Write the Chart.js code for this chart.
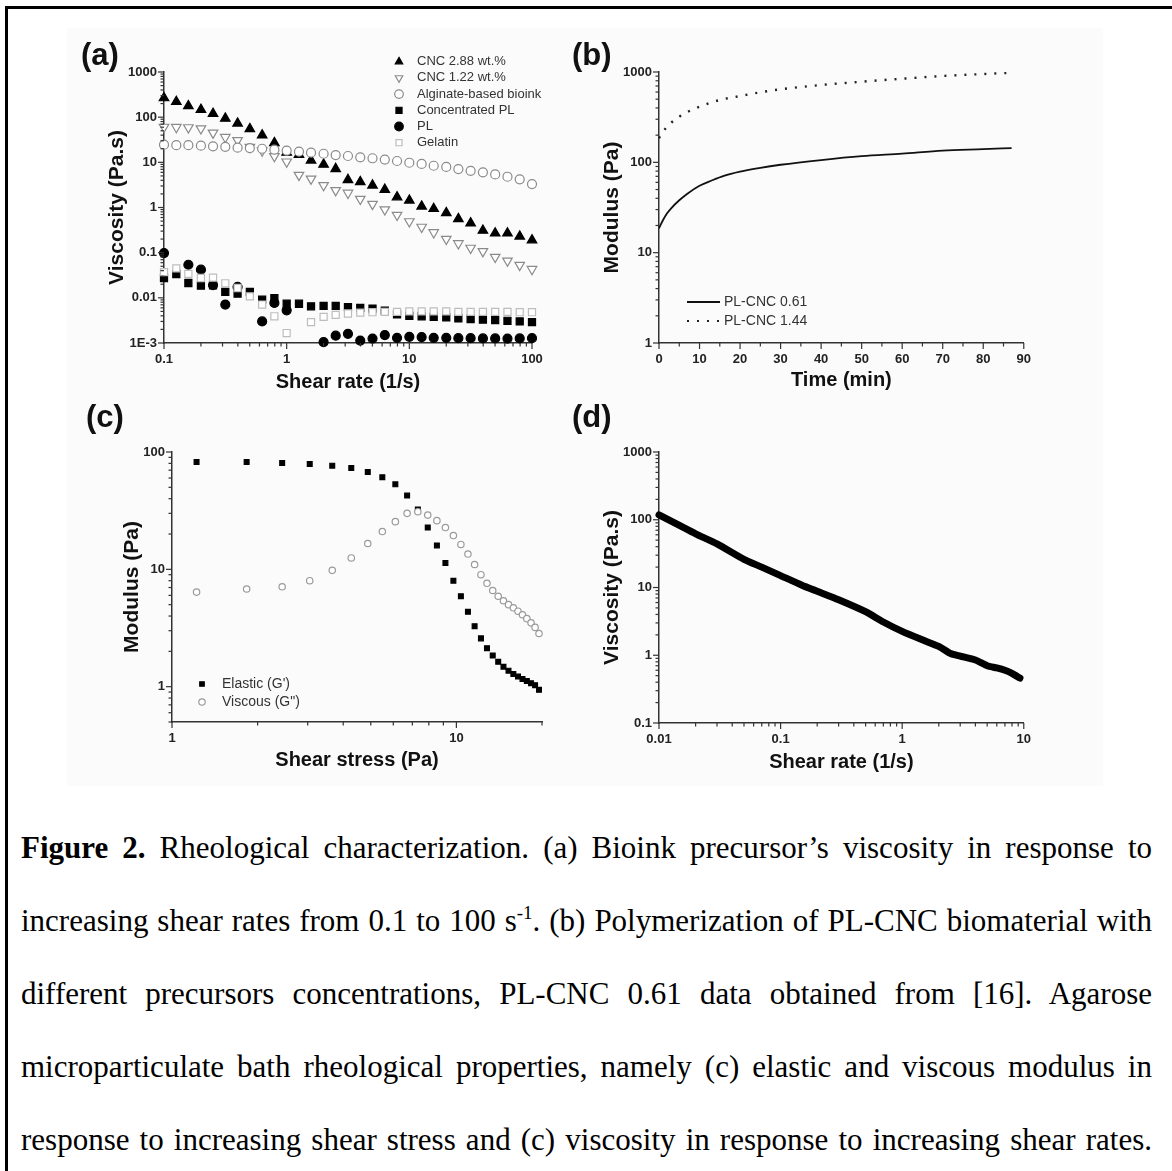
<!DOCTYPE html>
<html>
<head>
<meta charset="utf-8">
<script src="https://cdn.jsdelivr.net/npm/chart.js@4.4.0/dist/chart.umd.min.js"></script>
<style>
  body { margin: 0; background: #fff; width: 1172px; height: 1171px; overflow: hidden; position: relative; }
  .frameTop { position: absolute; left: 5px; top: 6px; width: 1167px; height: 3px; background: #000; }
  .frameLeft { position: absolute; left: 5px; top: 6px; width: 3px; height: 1165px; background: #000; }
  .imgbg { position: absolute; left: 67px; top: 28px; width: 1036px; height: 758px; background: #fbfbfb; }
  canvas { position: absolute; }
  .lbl { position: absolute; font: bold 31px "Liberation Sans", Arial, sans-serif; line-height: 31px; color: #111; }
  .caption { position: absolute; left: 21px; top: 811px; width: 1131px; font: 31px "Liberation Serif", "Times New Roman", serif; line-height: 73px; color: #000; }
  .caption div { text-align: justify; text-align-last: justify; }
  .caption sup { font-size: 19px; vertical-align: 12px; line-height: 0; }
</style>
</head>
<body>
<div class="imgbg"></div>
<div class="frameTop"></div>
<div class="frameLeft"></div>

<canvas id="chartA"></canvas>
<canvas id="chartB"></canvas>
<canvas id="chartC"></canvas>
<canvas id="chartD"></canvas>

<div class="lbl" style="left:81px;top:39px">(a)</div>
<div class="lbl" style="left:572px;top:39px">(b)</div>
<div class="lbl" style="left:86px;top:401px">(c)</div>
<div class="lbl" style="left:572px;top:401px">(d)</div>

<div class="caption">
  <div><b>Figure 2.</b> Rheological characterization. (a) Bioink precursor’s viscosity in response to</div>
  <div>increasing shear rates from 0.1 to 100 s<sup>-1</sup>. (b) Polymerization of PL-CNC biomaterial with</div>
  <div>different precursors concentrations, PL-CNC 0.61 data obtained from [16]. Agarose</div>
  <div>microparticulate bath rheological properties, namely (c) elastic and viscous modulus in</div>
  <div>response to increasing shear stress and (c) viscosity in response to increasing shear rates.</div>
</div>

<script>
// (a) viscosity vs shear rate
const shearA = [0.1, 0.126, 0.158, 0.2, 0.251, 0.316, 0.398, 0.501, 0.631, 0.794, 1, 1.26, 1.58, 2, 2.51, 3.16, 3.98, 5.01, 6.31, 7.94, 10, 12.6, 15.8, 20, 25.1, 31.6, 39.8, 50.1, 63.1, 79.4, 100]
const cnc288 = [266, 220, 177, 147, 120, 94, 73, 55, 40, 27, 16.6, 14.8, 11.1, 9.0, 7.2, 4.1, 3.7, 3.1, 2.5, 1.7, 1.44, 1.06, 0.94, 0.76, 0.56, 0.45, 0.31, 0.27, 0.27, 0.23, 0.19]
const cnc122 = [60.5, 60, 59, 56, 45, 36, 30.7, 21.8, 18.1, 13.6, 10.3, 5.2, 4.3, 3.1, 2.4, 2.1, 1.54, 1.19, 0.9, 0.68, 0.49, 0.37, 0.28, 0.2, 0.16, 0.127, 0.107, 0.08, 0.066, 0.053, 0.043]
const alginate = [24.6, 24, 24, 23.4, 22.6, 22, 21.1, 20.7, 20, 19.1, 18.1, 17.2, 16.4, 15.5, 14.5, 13.8, 12.9, 12.3, 11.5, 10.7, 9.8, 9.2, 8.4, 7.9, 7.1, 6.5, 6.0, 5.4, 4.8, 4.2, 3.3]
const concPL = [0.0275, 0.0337, 0.0213, 0.0186, 0.019, 0.0135, 0.0124, 0.0135, 0.0091, 0.0099, 0.0074, 0.0074, 0.0065, 0.0066, 0.0066, 0.0062, 0.006, 0.0058, 0.0052, 0.0043, 0.004, 0.0039, 0.0038, 0.0037, 0.0035, 0.0034, 0.0033, 0.0032, 0.0031, 0.003, 0.0029]
const plA = [0.098, null, 0.054, 0.042, 0.0192, 0.0071, 0.0174, null, 0.003, 0.0077, 0.0053, null, null, 0.00105, 0.00145, 0.0016, 0.00113, 0.00125, 0.0015, 0.0013, 0.00137, 0.00135, 0.0013, 0.0013, 0.00128, 0.00128, 0.00126, 0.00126, 0.00125, 0.00126, 0.00128]
const gelatin = [0.037, 0.045, 0.034, 0.0275, 0.028, 0.021, 0.0165, 0.0108, 0.0071, 0.0039, 0.00166, null, 0.0029, 0.0038, 0.0042, 0.0045, 0.0047, 0.0048, 0.0049, 0.0049, 0.005, 0.005, 0.005, 0.005, 0.0049, 0.0049, 0.0049, 0.0049, 0.0049, 0.0048, 0.0048]
const aXTicks = [0.1, 1, 10, 100]
const aXText = ['0.1', '1', '10', '100']
const aYTicks = [0.001, 0.01, 0.1, 1, 10, 100, 1000]
const aYText = ['1E-3', '0.01', '0.1', '1', '10', '100', '1000']

// (b) modulus vs time
const timeB = [0, 1, 2, 3, 5, 7, 10, 13, 16, 20, 25, 30, 40, 50, 60, 70, 80, 87]
const plcnc061 = [18.6, 23, 27.3, 31, 38, 45, 55, 63, 71, 79, 87, 94, 106, 117, 125, 135, 140, 144]
const plcnc144 = [185, 219, 248, 275, 320, 361, 413, 462, 502, 542, 596, 643, 718, 781, 843, 903, 950, 982]
const bYTicks = [1, 10, 100, 1000]
const bYText = ['1', '10', '100', '1000']

// (c) modulus vs shear stress
const stressC = [1.22, 1.83, 2.44, 3.05, 3.66, 4.27, 4.88, 5.49, 6.1, 6.71, 7.32, 7.93, 8.54, 9.15, 9.76, 10.37, 10.98, 11.59, 12.2, 12.81, 13.42, 14.03, 14.64, 15.25, 15.86, 16.47, 17.08, 17.69, 18.3, 18.91, 19.52]
const elastic = [82, 82, 80.6, 79, 76.5, 73, 67.6, 61, 53, 42.5, 32.3, 22.7, 16, 11.3, 8.0, 5.9, 4.35, 3.28, 2.58, 2.13, 1.84, 1.63, 1.48, 1.37, 1.28, 1.22, 1.16, 1.12, 1.07, 1.03, 0.94]
const viscous = [6.4, 6.8, 7.1, 8.0, 9.8, 12.5, 16.6, 21, 25.5, 30, 31, 29, 26, 22.7, 19.4, 16.3, 13.5, 11, 9.0, 7.6, 6.6, 5.9, 5.4, 5.0, 4.7, 4.4, 4.1, 3.8, 3.5, 3.2, 2.84]
const cXTicks = [1, 10]
const cXText = ['1', '10']
const cYTicks = [1, 10, 100]
const cYText = ['1', '10', '100']

// (d) viscosity vs shear rate
const rateD = [0.01, 0.015, 0.02, 0.03, 0.05, 0.07, 0.1, 0.15, 0.2, 0.3, 0.5, 0.7, 1, 1.5, 2, 2.5, 3, 4, 5, 6, 7, 8, 9.3]
const viscD = [118, 81, 62, 44, 26, 20, 15, 10.8, 8.8, 6.6, 4.4, 3.1, 2.25, 1.66, 1.35, 1.06, 0.97, 0.85, 0.7, 0.65, 0.6, 0.54, 0.46]
const dXTicks = [0.01, 0.1, 1, 10]
const dXText = ['0.01', '0.1', '1', '10']
const dYTicks = [0.1, 1, 10, 100, 1000]
const dYText = ['0.1', '1', '10', '100', '1000']

Chart.defaults.font.family = '"Liberation Sans", Arial, sans-serif'
const tickFont = {size: 13, weight: 'bold'}
const dark = '#333'
const grey = '#8a8a8a'
const light = '#bdbdbd'

function pairs(xs, ys) {
  return xs.map((x, i) => ({x: x, y: ys[i]})).filter(p => p.y != null)
}

function logTicks(min, max) {
  const out = []
  for (let n = Math.floor(Math.log10(min)); n <= Math.ceil(Math.log10(max)); n++) {
    for (let k = 1; k <= 9; k++) {
      const v = +(k * Math.pow(10, n)).toPrecision(6)
      if (v >= min * 0.999999 && v <= max * 1.000001) out.push({value: v})
    }
  }
  return out
}

function labelFrom(vals, texts) {
  return v => {
    const k = vals.findIndex(t => Math.abs(t - v) <= Math.abs(t) * 1e-6)
    return k < 0 ? '' : texts[k]
  }
}

function axis(pos, type, min, max, label, title, pad) {
  const vertical = pos == 'left'
  const a = {
    type: type, position: pos, min: min, max: max,
    ticks: {autoSkip: false, maxRotation: 0, padding: vertical ? 7 : 9, color: '#222', font: tickFont, callback: label},
    grid: {display: false, drawTicks: false},
    border: {display: true, color: dark, width: 1.5},
    title: {display: true, text: title, color: '#111', font: {size: vertical ? 21 : 20, weight: 'bold'},
      padding: vertical ? {top: pad} : {bottom: pad}}
  }
  if (type == 'logarithmic') a.afterBuildTicks = s => { s.ticks = logTicks(min, max) }
  return a
}

// short outward tick marks, longer on labelled ticks
const tickMarks = {
  id: 'tickMarks',
  afterDraw(chart) {
    const ctx = chart.ctx
    const a = chart.chartArea
    ctx.save()
    ctx.strokeStyle = dark
    ctx.lineWidth = 1.2
    Object.values(chart.scales).forEach(s => {
      s.ticks.forEach(t => {
        const p = s.getPixelForValue(t.value)
        const len = t.label ? 6 : 3.5
        ctx.beginPath()
        if (s.isHorizontal()) {
          ctx.moveTo(p, a.bottom)
          ctx.lineTo(p, a.bottom + len)
        } else {
          ctx.moveTo(a.left, p)
          ctx.lineTo(a.left - len, p)
        }
        ctx.stroke()
      })
    })
    ctx.restore()
  }
}

// legend drawn at a fixed spot inside the panel
const boxLegend = {
  id: 'boxLegend',
  afterDraw(chart, args, o) {
    if (!o || !o.x) return
    const ctx = chart.ctx
    ctx.save()
    ctx.font = o.size + 'px "Liberation Sans", Arial, sans-serif'
    ctx.textBaseline = 'middle'
    chart.data.datasets.forEach((d, i) => {
      const y = o.y + i * o.step
      ctx.fillStyle = d.backgroundColor
      ctx.strokeStyle = d.borderColor
      ctx.lineWidth = d.borderWidth
      if (d.showLine) {
        ctx.lineWidth = d.legendWidth || d.borderWidth
        ctx.setLineDash(d.borderDash || [])
        ctx.beginPath()
        ctx.moveTo(o.x, y)
        ctx.lineTo(o.x + o.len, y)
        ctx.stroke()
        ctx.setLineDash([])
      } else {
        Chart.helpers.drawPoint(ctx, {pointStyle: d.pointStyle, rotation: d.pointRotation || 0,
          radius: o.radius, borderWidth: d.borderWidth}, o.x, y)
      }
      ctx.fillStyle = o.color
      ctx.fillText(d.label, o.textX, y)
    })
    ctx.restore()
  }
}

function panel(id, box, area, xs, ys, datasets, legend) {
  const cv = document.getElementById(id)
  cv.width = box.w
  cv.height = box.h
  cv.style.left = box.x + 'px'
  cv.style.top = box.y + 'px'
  const yW = area.left - box.x
  const xH = box.y + box.h - area.bottom
  xs.afterFit = s => { s.height = xH }
  ys.afterFit = s => { s.width = yW }
  return new Chart(cv, {
    type: 'scatter',
    data: {datasets: datasets},
    options: {
      responsive: false,
      animation: false,
      layout: {padding: {left: 0, bottom: 0, top: area.top - box.y, right: box.x + box.w - area.right}},
      scales: {x: xs, y: ys},
      plugins: {legend: {display: false}, tooltip: {enabled: false}, boxLegend: legend}
    },
    plugins: [tickMarks, boxLegend]
  })
}

function pts(label, data, style, fill, stroke, r, order, rot) {
  return {label: label, data: data, pointStyle: style, backgroundColor: fill, borderColor: stroke,
    borderWidth: 1.2, pointRadius: r, pointRotation: rot || 0, order: order, clip: false}
}

panel('chartA', {x: 60, y: 30, w: 510, h: 370}, {left: 164, top: 72, right: 532, bottom: 343},
  axis('bottom', 'logarithmic', 0.1, 100, labelFrom(aXTicks, aXText), 'Shear rate (1/s)', 6),
  axis('left', 'logarithmic', 0.001, 1000, labelFrom(aYTicks, aYText), 'Viscosity (Pa.s)', 45),
  [
    pts('CNC 2.88 wt.%', pairs(shearA, cnc288), 'triangle', '#000', '#000', 5.5, 5),
    pts('CNC 1.22 wt.%', pairs(shearA, cnc122), 'triangle', '#fff', grey, 5.5, 4, 180),
    pts('Alginate-based bioink', pairs(shearA, alginate), 'circle', '#fff', grey, 4.5, 3),
    pts('Concentrated PL', pairs(shearA, concPL), 'rect', '#000', '#000', 5, 2),
    pts('PL', pairs(shearA, plA), 'circle', '#000', '#000', 4.5, 1),
    pts('Gelatin', pairs(shearA, gelatin), 'rect', '#fff', light, 5, 0)
  ],
  {x: 339, y: 31.7, step: 16.2, textX: 357, radius: 4.3, size: 13, color: dark})

const bX = axis('bottom', 'linear', 0, 90, v => (v % 10 == 0 ? String(v) : ''), 'Time (min)', 8)
bX.ticks.stepSize = 5
panel('chartB', {x: 560, y: 30, w: 480, h: 370}, {left: 659, top: 72, right: 1028, bottom: 343},
  bX,
  axis('left', 'logarithmic', 1, 1000, labelFrom(bYTicks, bYText), 'Modulus (Pa)', 40),
  [
    {label: 'PL-CNC 0.61', data: pairs(timeB, plcnc061), showLine: true, pointRadius: 0, borderColor: '#111',
      backgroundColor: '#111', borderWidth: 1.8, cubicInterpolationMode: 'monotone'},
    {label: 'PL-CNC 1.44', data: pairs(timeB, plcnc144), showLine: true, pointRadius: 0, borderColor: '#222',
      backgroundColor: '#222', borderWidth: 2.4, borderDash: [2, 8], legendWidth: 2, cubicInterpolationMode: 'monotone'}
  ],
  {x: 127, y: 272, step: 19, len: 33, textX: 164, size: 14, color: dark})

panel('chartC', {x: 60, y: 400, w: 510, h: 400}, {left: 172, top: 452, right: 542, bottom: 722},
  axis('bottom', 'logarithmic', 1, 20, labelFrom(cXTicks, cXText), 'Shear stress (Pa)', 28),
  axis('left', 'logarithmic', 0.5, 100, labelFrom(cYTicks, cYText), 'Modulus (Pa)', 60),
  [
    pts("Elastic (G')", pairs(stressC, elastic), 'rect', '#000', '#000', 3.4, 1),
    pts('Viscous (G")', pairs(stressC, viscous), 'circle', '#fff', '#9a9a9a', 3.2, 0)
  ],
  {x: 142, y: 284, step: 18, textX: 162, radius: 3.2, size: 14, color: dark})

panel('chartD', {x: 560, y: 400, w: 480, h: 400}, {left: 659, top: 452, right: 1028, bottom: 723},
  axis('bottom', 'logarithmic', 0.01, 10, labelFrom(dXTicks, dXText), 'Shear rate (1/s)', 26),
  axis('left', 'logarithmic', 0.1, 1000, labelFrom(dYTicks, dYText), 'Viscosity (Pa.s)', 40),
  [
    {label: 'Viscosity', data: pairs(rateD, viscD), showLine: true, pointRadius: 0, borderColor: '#000',
      backgroundColor: '#000', borderWidth: 7, borderCapStyle: 'round', borderJoinStyle: 'round', tension: 0.2, clip: 8}
  ],
  null)
</script>
</body>
</html>
